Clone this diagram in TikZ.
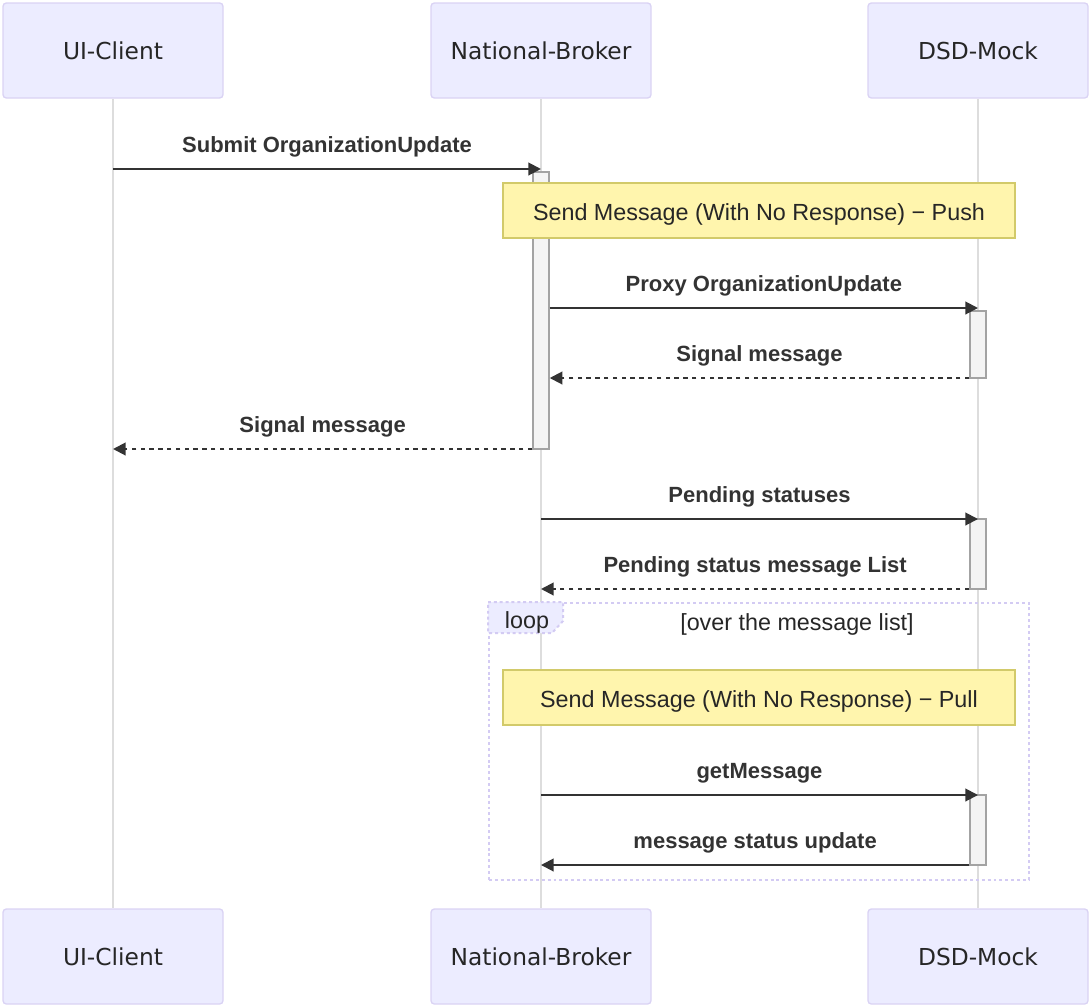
\documentclass[tikz,border=0pt]{standalone}
\usepackage{fontspec}
\setmainfont{Liberation Sans}
\newfontfamily\actorfont{DejaVu Sans}
\usetikzlibrary{arrows.meta}

\definecolor{actorfill}{HTML}{ECECFF}
\definecolor{actorline}{HTML}{DAD3F4}
\definecolor{lifegray}{HTML}{DDDDDD}
\definecolor{msggray}{HTML}{333333}
\definecolor{notefill}{HTML}{FFF5AD}
\definecolor{noteline}{HTML}{D2CA6A}
\definecolor{actfill}{HTML}{F4F4F4}
\definecolor{actline}{HTML}{A3A3A3}
\definecolor{loopline}{HTML}{D3CBF3}

\begin{document}
\begin{tikzpicture}[x=0.75pt, y=-0.75pt,
  actor/.style={draw=actorline, fill=actorfill, line width=1pt, rounded corners=2.5pt, minimum width=165pt, minimum height=71.25pt, font=\actorfont\fontsize{17.5}{21}\selectfont, text=black!85},
  lifeline/.style={draw=lifegray, line width=1.5pt},
  act/.style={draw=actline, fill=actfill, line width=1.1pt, minimum width=12pt, inner sep=0pt},
  msg/.style={draw=msggray, line width=1.5pt, -{Triangle[length=9.5pt, width=9.5pt]}},
  reply/.style={msg, dash pattern=on 3.3pt off 3.3pt},
  msgtext/.style={font=\bfseries\fontsize{16.5}{20}\selectfont, text=msggray, anchor=base, yshift=12.75pt},
  note/.style={draw=noteline, fill=notefill, line width=0.8pt, minimum width=384pt, minimum height=41.25pt, text height=15pt, text depth=0pt, font=\fontsize{17.5}{21}\selectfont, text=black!85},
  loopbox/.style={draw=loopline, line width=1.5pt, dash pattern=on 2.2pt off 2.2pt, minimum width=405pt, minimum height=207.75pt},
  looptext/.style={font=\fontsize{17.5}{21}\selectfont, text=black!85}]

  \useasboundingbox (0,0) rectangle (1090,1007);

  % Top row
  \node[actor] (A1) at (113,50.5) {UI-Client};
  \node[actor] (A2) at (541,50.5) {National-Broker};
  \node[actor] (A3) at (978,50.5) {DSD-Mock};

  % Bottom row
  \node[actor] (B1) at (113,956.5) {UI-Client};
  \node[actor] (B2) at (541,956.5) {National-Broker};
  \node[actor] (B3) at (978,956.5) {DSD-Mock};

  % Lifelines
  \draw[lifeline] (A1) -- (B1);
  \draw[lifeline] (A2) -- (B2);
  \draw[lifeline] (A3) -- (B3);

  % Loop frame
  \node[loopbox] (L) at (759,741.5) {};
  \draw[draw=loopline, fill=actorfill, line width=1.5pt, dash pattern=on 2.2pt off 2.2pt] (L.north west) -- ++(75,0) -- ++(0,19) -- ++(-11,12) -- ++(-64,0) -- cycle;
  \node[looptext] (Ltag) at (527,622) {loop};
  \node[looptext] (Lcond) at (797,624) {[over the message list]};

  % Activations
  \node[act, minimum height=207.75pt] (act1) at (541,310.5) {};
  \node[act, minimum height=50.25pt] (act2) at (978,344.5) {};
  \node[act, minimum height=52.5pt] (act3) at (978,554) {};
  \node[act, minimum height=52.5pt] (act4) at (978,830) {};

  % Notes
  \node[note] (N1) at (759,210.5) {Send Message (With No Response) − Push};
  \node[note] (N2) at (759,697.5) {Send Message (With No Response) − Pull};

  % Message rows
  \coordinate (y1) at (0,169);
  \coordinate (y2) at (0,308);
  \coordinate (y3) at (0,378);
  \coordinate (y4) at (0,449);
  \coordinate (y5) at (0,519);
  \coordinate (y6) at (0,589);
  \coordinate (y7) at (0,795);
  \coordinate (y8) at (0,865);

  % Messages
  \draw[msg] (A1 |- y1) -- node[msgtext, midway] {Submit OrganizationUpdate} (A2 |- y1);
  \draw[msg] (act1.east |- y2) -- node[msgtext, midway] {Proxy OrganizationUpdate} (A3 |- y2);
  \draw[reply] (act2.west |- y3) -- node[msgtext, midway] {Signal message} (act1.east |- y3);
  \draw[reply] (act1.west |- y4) -- node[msgtext, midway] {Signal message} (A1 |- y4);
  \draw[msg] (A2 |- y5) -- node[msgtext, midway] {Pending statuses} (A3 |- y5);
  \draw[reply] (act3.west |- y6) -- node[msgtext, midway] {Pending status message List} (A2 |- y6);
  \draw[msg] (A2 |- y7) -- node[msgtext, midway] {getMessage} (A3 |- y7);
  \draw[msg] (act4.west |- y8) -- node[msgtext, midway] {message status update} (A2 |- y8);

\end{tikzpicture}
\end{document}
